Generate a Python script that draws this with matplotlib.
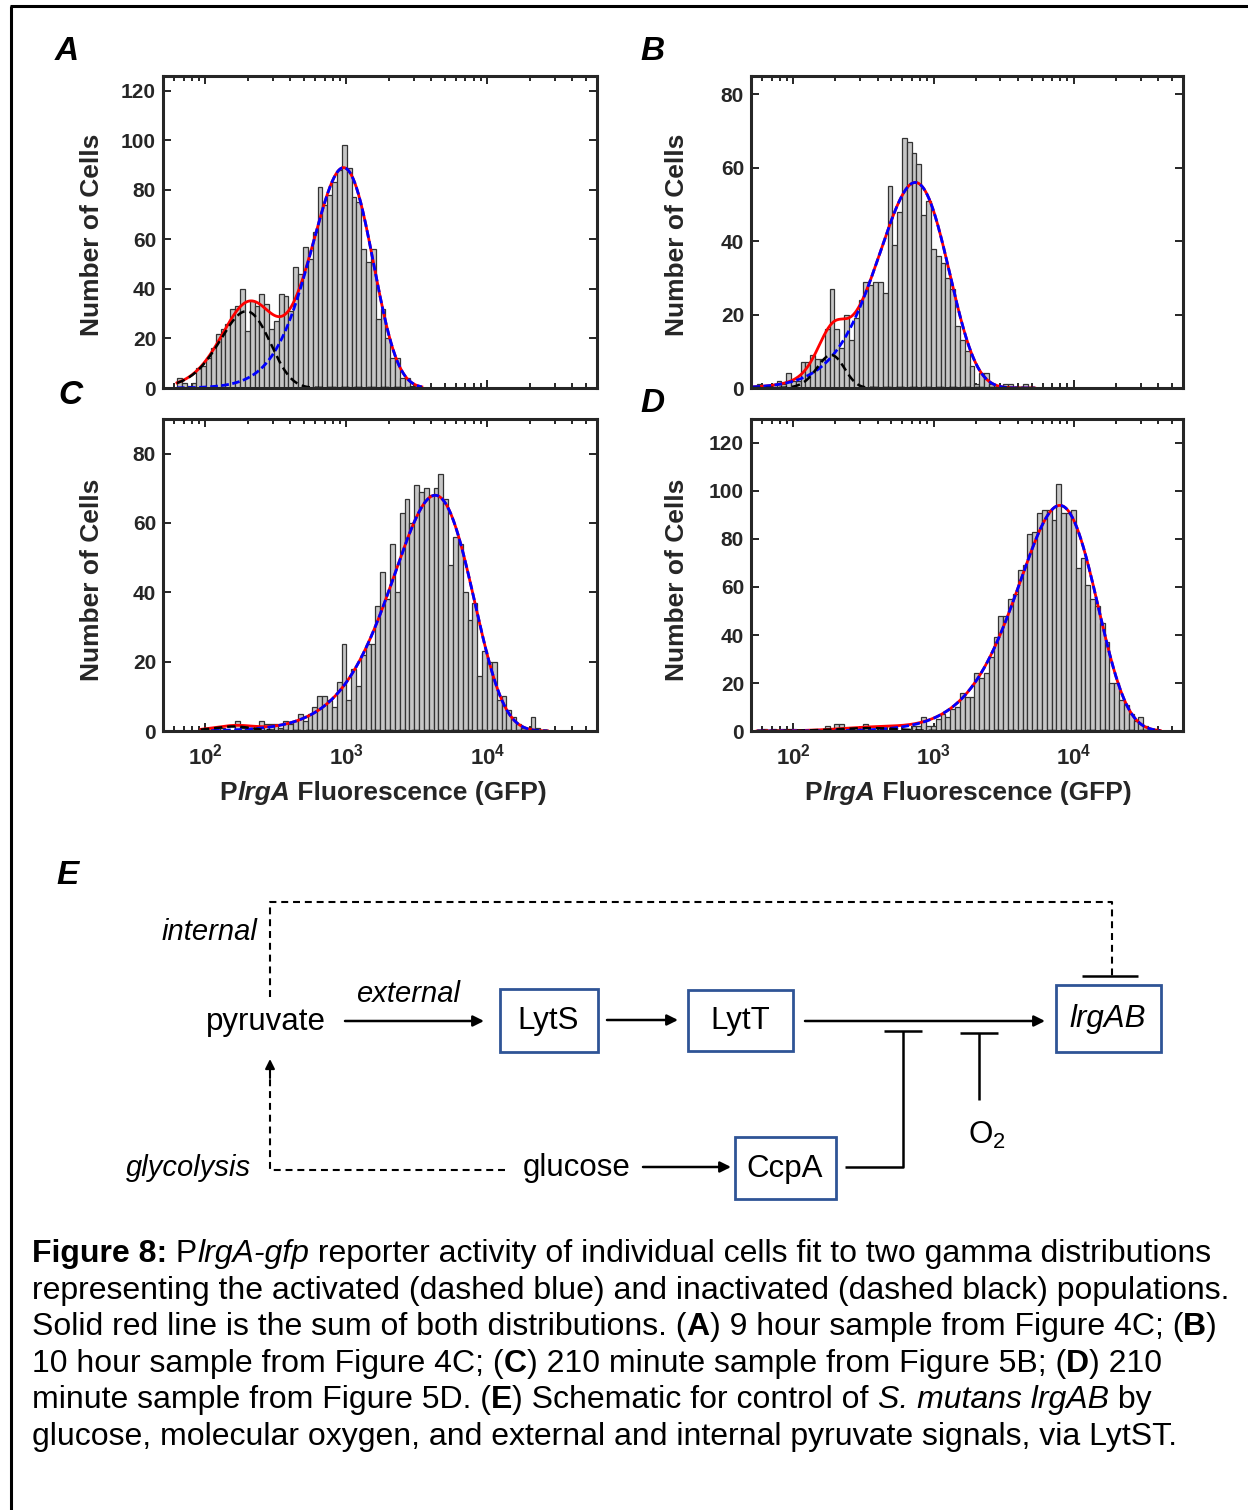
import numpy as np
import matplotlib
matplotlib.use('Agg')
import matplotlib.pyplot as plt
from matplotlib.patches import Rectangle
from matplotlib.ticker import LogLocator, NullFormatter, FixedLocator

plt.rcParams['font.family'] = ['Liberation Sans', 'DejaVu Sans']
plt.rcParams['mathtext.fontset'] = 'custom'
plt.rcParams['mathtext.rm'] = 'Liberation Sans'
plt.rcParams['mathtext.bf'] = 'Liberation Sans:bold'
plt.rcParams['mathtext.it'] = 'Liberation Sans:italic'
plt.rcParams['lines.scale_dashes'] = False

W, H = 1248, 1510

# ---------------- data ----------------
bin_width_log = 0.0344          # histogram bin width in decades

A_start = 1.798
A_counts = [4, 2, 1, 2, 8, 9, 12, 16, 22, 24,
            26, 32, 33, 40, 23, 35, 33, 38, 34, 24,
            27, 38, 37, 31, 49, 46, 57, 52, 63, 81,
            74, 78, 83, 88, 98, 89, 77, 75, 56, 51,
            56, 28, 32, 20, 12, 12, 4, 4, 1]

B_start = 1.709
B_counts = [0, 1, 0, 0, 1, 2, 1, 4, 2, 2,
            7, 7, 9, 8, 8, 16, 27, 16, 11, 20,
            13, 19, 24, 29, 28, 29, 29, 26, 55, 39,
            48, 68, 67, 64, 61, 47, 51, 38, 36, 34,
            30, 27, 17, 13, 10, 6, 1, 4, 4, 1,
            0, 0, 1, 1, 0, 0, 1]

C_start = 1.968
C_counts = [0, 1, 0, 1, 1, 0, 0, 3, 1, 1,
            1, 0, 3, 2, 2, 2, 1, 3, 2, 3,
            5, 3, 5, 7, 10, 10, 9, 7, 14, 25,
            9, 18, 13, 22, 25, 25, 36, 46, 38, 54,
            40, 63, 67, 60, 71, 69, 70, 68, 70, 74,
            67, 48, 56, 54, 40, 32, 37, 16, 23, 20,
            20, 9, 10, 6, 4, 2, 1, 0, 4, 1]

D_start = 1.743
D_counts = [0, 1, 0, 1, 0, 1, 1, 1, 0, 0,
            0, 0, 0, 0, 2, 0, 3, 3, 0, 1,
            0, 1, 3, 0, 0, 0, 2, 0, 2, 0,
            0, 1, 2, 2, 6, 2, 2, 5, 7, 6,
            9, 10, 16, 14, 14, 24, 22, 24, 31, 39,
            48, 48, 55, 57, 67, 69, 82, 83, 91, 92,
            92, 88, 103, 91, 91, 92, 68, 72, 61, 55,
            52, 45, 37, 20, 20, 13, 11, 7, 4, 6,
            2, 0]

# gamma-distribution fits: [inactivated (black), activated (blue)]
# mode position (log10 GFP), peak height (cells), shape parameter
A_fit_mode = [2.29, 2.98]
A_fit_height = [31, 89]
A_fit_shape = [6, 4]
B_fit_mode = [2.27, 2.87]
B_fit_height = [9, 56]
B_fit_shape = [20, 3.0]
C_fit_mode = [2.20, 3.63]
C_fit_height = [1.3, 68]
C_fit_shape = [10, 2.3]
D_fit_mode = [2.55, 3.90]
D_fit_height = [1.2, 94]
D_fit_shape = [4, 2.4]

A_labels = [("82%", 353, 111), ("18%", 250, 254)]
B_labels = [("95 %", 923, 111), ("5%", 830, 273)]
C_labels = [("100%", 435, 455)]
D_labels = [("98%", 1062, 456), ("2%", 875, 666)]

A_yticks = [0, 20, 40, 60, 80, 100, 120]
B_yticks = [0, 20, 40, 60, 80]
C_yticks = [0, 20, 40, 60, 80]
D_yticks = [0, 20, 40, 60, 80, 100, 120]
x_ticks = [1e2, 1e3, 1e4]
x_ticklabels = [r'$\mathbf{10^{2}}$', r'$\mathbf{10^{3}}$', r'$\mathbf{10^{4}}$']

# ---------------- figure ----------------
fig = plt.figure(figsize=(W / 100, H / 100), dpi=100)
ov = fig.add_axes([0, 0, 1, 1])
ov.set_xlim(0, W)
ov.set_ylim(H, 0)
ov.axis('off')
renderer = fig.canvas.get_renderer()

AXC = '#262626'


def px_axes(l, t, r, b):
    return fig.add_axes([l / W, 1 - b / H, (r - l) / W, (b - t) / H])


def gamma_curve(u, mode, height, shape):
    r = 10.0 ** (u - mode)
    return height * r ** shape * np.exp(-shape * (r - 1.0))


def panel(box, start, counts, modes, heights, shapes, ymax, yticks, xlab):
    ax = px_axes(*box)
    n = len(counts)
    edges = 10.0 ** (start + bin_width_log * np.arange(n + 1))
    ax.bar(edges[:-1], counts, width=np.diff(edges), align='edge',
           color='#c6c6c6', edgecolor='#333333', linewidth=0.9, zorder=2)
    u = np.linspace(start, start + bin_width_log * (n + 1.5), 600)
    black = gamma_curve(u, modes[0], heights[0], shapes[0])
    blue = gamma_curve(u, modes[1], heights[1], shapes[1])
    x = 10.0 ** u
    ax.plot(x, black + blue, color='#ff0000', lw=2.0, zorder=3)
    ax.plot(x, blue, color='#0000ff', lw=2.0, dashes=(5.5, 2.5), zorder=4)
    ax.plot(x, black, color='black', lw=1.8, dashes=(6, 3.5), zorder=5)
    ax.set_xscale('log')
    ax.set_xlim(50, 6e4)
    ax.set_ylim(0, ymax)
    ax.yaxis.set_major_locator(FixedLocator(yticks))
    ax.set_yticklabels([str(v) for v in yticks], fontsize=15,
                       fontweight='bold', color=AXC)
    ax.xaxis.set_major_locator(FixedLocator(x_ticks))
    ax.xaxis.set_minor_locator(LogLocator(base=10, subs=np.arange(2, 10)))
    ax.xaxis.set_minor_formatter(NullFormatter())
    if xlab:
        ax.set_xticklabels(x_ticklabels, fontsize=16, color=AXC)
    else:
        ax.set_xticklabels([])
    ax.tick_params(which='both', direction='in', top=True, right=True,
                   colors=AXC, width=1.4)
    ax.tick_params(axis='y', which='major', length=6, pad=5)
    ax.tick_params(axis='x', which='major', length=6, pad=9)
    ax.tick_params(axis='x', which='minor', length=3.5)
    for sp in ax.spines.values():
        sp.set_linewidth(2.2)
        sp.set_color(AXC)
        sp.set_zorder(6)
    return ax


panel((163, 76, 597, 388), A_start, A_counts, A_fit_mode, A_fit_height,
      A_fit_shape, 126, A_yticks, False)
panel((751, 76, 1183, 388), B_start, B_counts, B_fit_mode, B_fit_height,
      B_fit_shape, 85, B_yticks, False)
panel((163, 419, 597, 731), C_start, C_counts, C_fit_mode, C_fit_height,
      C_fit_shape, 90, C_yticks, True)
panel((751, 419, 1183, 731), D_start, D_counts, D_fit_mode, D_fit_height,
      D_fit_shape, 130, D_yticks, True)

for lbls in (A_labels, B_labels, C_labels, D_labels):
    for s, x, y in lbls:
        ov.text(x, y, s, fontsize=17.5, fontweight='bold', ha='center',
                va='center', color='black', zorder=10)

# arrow for the 2% population
ov.annotate('', xy=(877, 717), xytext=(877, 684),
            arrowprops=dict(arrowstyle='-|>', color='black', lw=1.8,
                            mutation_scale=14, shrinkA=0, shrinkB=0))

# panel letters
for s, x, y in [('A', 67, 52), ('B', 652, 52), ('C', 70, 396), ('D', 652, 403),
                ('E', 68, 875)]:
    ov.text(x, y, s, fontsize=24, fontweight='bold', fontstyle='italic',
            ha='center', va='center')

# y labels
for x, y in [(92, 235), (677, 235), (92, 580), (677, 580)]:
    ov.text(x, y, 'Number of Cells', rotation=90, fontsize=19,
            fontweight='bold', ha='center', va='center', color=AXC)


def seg_width(s, **kw):
    t1 = ov.text(0, 0, '|' + s + '|', **kw)
    w1 = t1.get_window_extent(renderer).width
    t1.remove()
    t2 = ov.text(0, 0, '||', **kw)
    w2 = t2.get_window_extent(renderer).width
    t2.remove()
    return w1 - w2


def draw_segments(x, y, segs, ha='left', **common):
    widths = [seg_width(s, **{**common, **kw}) for s, kw in segs]
    total = sum(widths)
    cur = x - total / 2 if ha == 'center' else x
    for (s, kw), w in zip(segs, widths):
        ov.text(cur, y, s, ha='left', va='baseline', **{**common, **kw})
        cur += w
    return total


xlab_segs = [('P', {}), ('lrgA', {'fontstyle': 'italic'}),
             (' Fluorescence (GFP)', {})]
for cx in (383, 968):
    draw_segments(cx, 800, xlab_segs, ha='center', fontsize=19,
                  fontweight='bold', color=AXC)

# ---------------- schematic (E) ----------------
BOXC = '#2f5496'
for (x0, y0, x1, y1) in [(500, 989, 598, 1052), (688, 990, 793, 1051),
                         (1056, 985, 1161, 1052), (735, 1137, 836, 1199)]:
    ov.add_patch(Rectangle((x0, y0), x1 - x0, y1 - y0, fill=False,
                           edgecolor=BOXC, lw=2.0))


def arrow(x0, y0, x1, y1):
    ov.annotate('', xy=(x1, y1), xytext=(x0, y0),
                arrowprops=dict(arrowstyle='-|>', color='black', lw=1.8,
                                mutation_scale=16, shrinkA=0, shrinkB=0))


arrow(345, 1021, 484, 1021)
arrow(607, 1020, 678, 1020)
arrow(805, 1021, 1045, 1021)
arrow(643, 1167, 731, 1167)

dash = dict(color='black', lw=1.5, dashes=(5, 3.5))
ov.plot([270, 270, 1112, 1112], [997, 902, 902, 976], **dash)
ov.plot([505, 270, 270], [1170, 1170, 1075], **dash)
ov.annotate('', xy=(270, 1059), xytext=(270, 1078),
            arrowprops=dict(arrowstyle='-|>', color='black', lw=1.5,
                            mutation_scale=14, shrinkA=0, shrinkB=0))
solid = dict(color='black', lw=1.8, solid_capstyle='butt')
ov.plot([1082, 1138], [976, 976], **solid)
ov.plot([884, 922], [1031, 1031], **solid)
ov.plot([845, 903, 903], [1167, 1167, 1031], **solid)
ov.plot([960, 998], [1033, 1033], **solid)
ov.plot([979, 979], [1033, 1100], **solid)

sfs = 22.5
ov.text(266, 1022, 'pyruvate', fontsize=sfs, ha='center', va='center')
ov.text(408, 994, 'external', fontsize=21, fontstyle='italic', ha='center', va='center')
ov.text(209, 932, 'internal', fontsize=21, fontstyle='italic', ha='center', va='center')
ov.text(548, 1021, 'LytS', fontsize=sfs, ha='center', va='center')
ov.text(740, 1021, 'LytT', fontsize=sfs, ha='center', va='center')
ov.text(1108, 1019, 'lrgAB', fontsize=sfs, fontstyle='italic', ha='center', va='center')
ov.text(987, 1135, r'O$_2$', fontsize=sfs, ha='center', va='center')
ov.text(188, 1168, 'glycolysis', fontsize=21, fontstyle='italic', ha='center', va='center')
ov.text(577, 1168, 'glucose', fontsize=sfs, ha='center', va='center')
ov.text(785, 1169, 'CcpA', fontsize=sfs, ha='center', va='center')

# ---------------- caption ----------------
B_ = {'fontweight': 'bold'}
I_ = {'fontstyle': 'italic'}
N_ = {}
cap_lines = [
    [('Figure 8:', B_), (' P', N_), ('lrgA-gfp', I_),
     (' reporter activity of individual cells fit to two gamma distributions', N_)],
    [('representing the activated (dashed blue) and inactivated (dashed black) populations.', N_)],
    [('Solid red line is the sum of both distributions. (', N_), ('A', B_),
     (') 9 hour sample from Figure 4C; (', N_), ('B', B_), (')', N_)],
    [('10 hour sample from Figure 4C; (', N_), ('C', B_),
     (') 210 minute sample from Figure 5B; (', N_), ('D', B_), (') 210', N_)],
    [('minute sample from Figure 5D. (', N_), ('E', B_),
     (') Schematic for control of ', N_), ('S. mutans lrgAB', I_), (' by', N_)],
    [('glucose, molecular oxygen, and external and internal pyruvate signals, via LytST.', N_)],
]
w_ref = seg_width(cap_lines[1][0][0], fontsize=20)
cap_fs = 20 * (1194 / w_ref)
for k, segs in enumerate(cap_lines):
    draw_segments(32, 1262 + 36.6 * k, segs, fontsize=cap_fs, color='black')

# outer frame
ov.plot([11, 11], [H + 5, 6], color='black', lw=2.2, solid_capstyle='butt')
ov.plot([10, W + 5], [6, 6], color='black', lw=2.2, solid_capstyle='butt')

fig.savefig('out.png', dpi=100)
